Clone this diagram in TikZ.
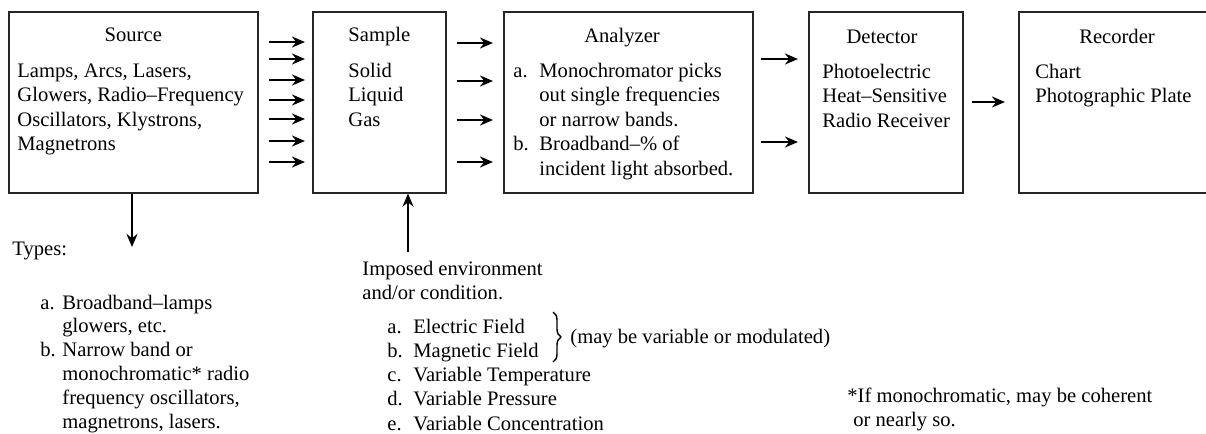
\documentclass[tikz,border=0pt]{standalone}
\usepackage{fontspec}
\setmainfont{Liberation Serif}
\usetikzlibrary{arrows.meta,positioning,decorations.pathreplacing}

\tikzset{
  blk/.style={draw=black!85, line width=0.8pt, inner sep=0pt, anchor=north west, minimum height=90.5pt},
  ttl/.style={anchor=base, inner sep=0pt},
  txt/.style={anchor=base west, inner sep=0pt},
  flow/.style={line width=1.3pt, -{Stealth[length=6.5pt,width=5.5pt]}},
}
\newcommand\lbl[2][13pt]{\makebox[#1][l]{#2}}
\newcommand\rows[1]{\begin{tabular}[t]{@{}l@{}}#1\end{tabular}}

\begin{document}
\begin{tikzpicture}[x=0.5pt,y=-0.5pt,font=\fontsize{10.3}{12.25}\selectfont]
\clip (0,0) rectangle (1206,434);

% the five blocks
\node[blk, minimum width=124.5pt] (src) at (8,11) {};
\node[blk, minimum width=66.5pt] (smp) at (312,11) {};
\node[blk, minimum width=124.5pt] (ana) at (503,11) {};
\node[blk, minimum width=77pt] (det) at (808,11) {};
\node[blk, minimum width=98.5pt] (rec) at (1018,11) {};

% titles
\node[ttl] (srcttl) at (src.north |- 0,41) {Source};
\node[ttl] (smpttl) at (smp.north |- 0,41) {Sample};
\node[ttl] (anattl) at (622,42) {Analyzer};
\node[ttl] (detttl) at (882,43) {Detector};
\node[ttl] (recttl) at (1117,43) {Recorder};

% block contents
\node[txt] (srcbody) at (17,77) {\rows{Lamps, Arcs, Lasers,\\Glowers, Radio--Frequency\\Oscillators, Klystrons,\\Magnetrons}};
\node[txt] (smpbody) at (348,77) {\rows{Solid\\Liquid\\Gas}};
\node[txt] (anabody) at (513,77) {\rows{\lbl{a.}Monochromator picks\\\lbl{}out single frequencies\\\lbl{}or narrow bands.\\\lbl{b.}Broadband--\% of\\\lbl{}incident light absorbed.}};
\node[txt] (detbody) at (822,78) {\rows{Photoelectric\\Heat--Sensitive\\Radio Receiver}};
\node[txt] (recbody) at (1035,78) {\rows{Chart\\Photographic Plate}};

% arrows between blocks
\foreach \y in {42,59,80,100,119,141,162}
  \draw[flow, shorten <=5pt, shorten >=3.5pt] (src.east |- 0,\y) -- (smp.west |- 0,\y);
\foreach \y in {43,81,120,162}
  \draw[flow, shorten <=5pt, shorten >=5pt] (smp.east |- 0,\y) -- (ana.west |- 0,\y);
\foreach \y in {59,142}
  \draw[flow, shorten <=3.5pt, shorten >=5pt] (ana.east |- 0,\y) -- (det.west |- 0,\y);
\draw[flow, shorten <=4pt, shorten >=6.5pt] (det.east |- 0,102) -- (rec.west |- 0,102);

% source types
\coordinate (srcend) at (132,247);
\draw[flow] (src.south -| srcend) -- (srcend);
\node[txt] (types) at (12,255) {Types:};
\node[txt, font=\fontsize{10.3}{11.9}\selectfont] (typelist) at (40,309) {\rows{\lbl[11pt]{a.}Broadband--lamps\\\lbl[11pt]{}glowers, etc.\\\lbl[11pt]{b.}Narrow band or\\\lbl[11pt]{}monochromatic* radio\\\lbl[11pt]{}frequency oscillators,\\\lbl[11pt]{}magnetrons, lasers.}};

% imposed environment
\coordinate (envtop) at (408,252);
\draw[flow] (envtop) -- (envtop |- smp.south);
\node[txt] (env) at (362,275) {\rows{Imposed environment\\and/or condition.}};
\node[txt, font=\fontsize{10.3}{12.15}\selectfont] (envlist) at (387,333) {\rows{\lbl{a.}Electric Field\\\lbl{b.}Magnetic Field\\\lbl{c.}Variable Temperature\\\lbl{d.}Variable Pressure\\\lbl{e.}Variable Concentration}};
\draw[line width=0.7pt, decorate, decoration={brace, amplitude=4pt}] (553,312) -- (553,362);
\node[txt] (modnote) at (570,343) {(may be variable or modulated)};

% footnote
\node[txt] (foot) at (847,402) {\rows{*If monochromatic, may be coherent\\\hspace*{3pt}or nearly so.}};
\end{tikzpicture}
\end{document}
